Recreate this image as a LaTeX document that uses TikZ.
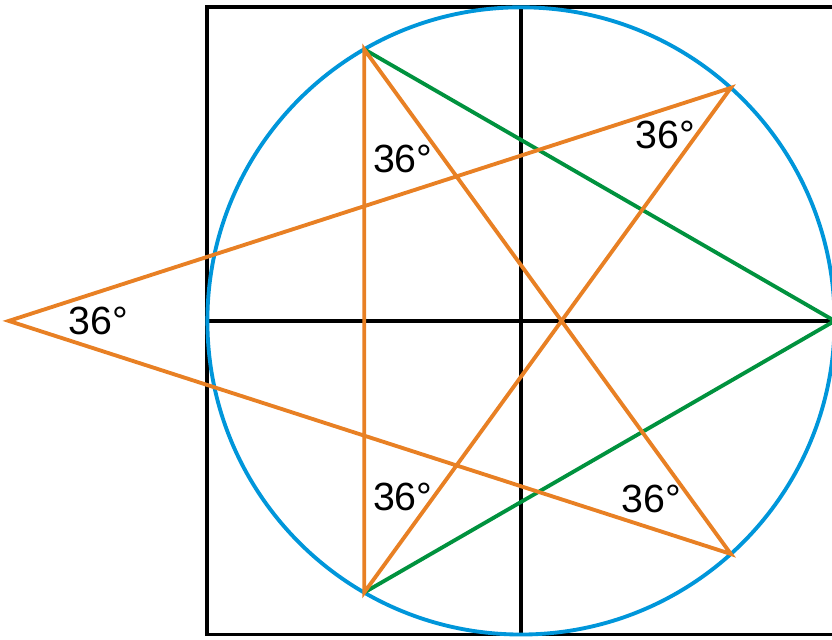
\documentclass[tikz,border=0pt]{standalone}
\usepackage{fontspec}
\setmainfont{Liberation Sans}
\definecolor{circblue}{RGB}{0,150,218}
\definecolor{stargreen}{RGB}{0,146,62}
\definecolor{starorange}{RGB}{232,128,36}
\begin{document}
\begin{tikzpicture}[font=\fontsize{10.7}{13}\selectfont,line width=1.05pt]
		\useasboundingbox (-4.984,-3.043) rectangle (2.975,3.070);
		\path
		(0,0) coordinate (O)
		(-3,-3) coordinate (SW)
		(3,3) coordinate (NE)
		(-3,0) coordinate (W)
		(3,0) coordinate (E)
		(0,3) coordinate (N)
		(0,-3) coordinate (S)
		(120:3) coordinate (B)
		(240:3) coordinate (C)
		(48:3) coordinate (D)
		(-48:3) coordinate (F)
		(-4.9,0) coordinate (L)
		;
		\draw 
		(SW) rectangle (NE)
		(W)--(E)
		(N)--(S);
		\draw[circblue] (O) circle (3);
		\draw[stargreen] (B)--(E)--(C);
		\draw[starorange] (L)--(D)--(C)--(B)--(F)--cycle;
		\path 
		(-4.045,0) node{36°}
		(-1.131,1.553) node{36°}
		(1.380,1.783) node{36°}
		(-1.131,-1.687) node{36°}
		(1.246,-1.706) node{36°}
		;
	
\end{tikzpicture}
\end{document}
